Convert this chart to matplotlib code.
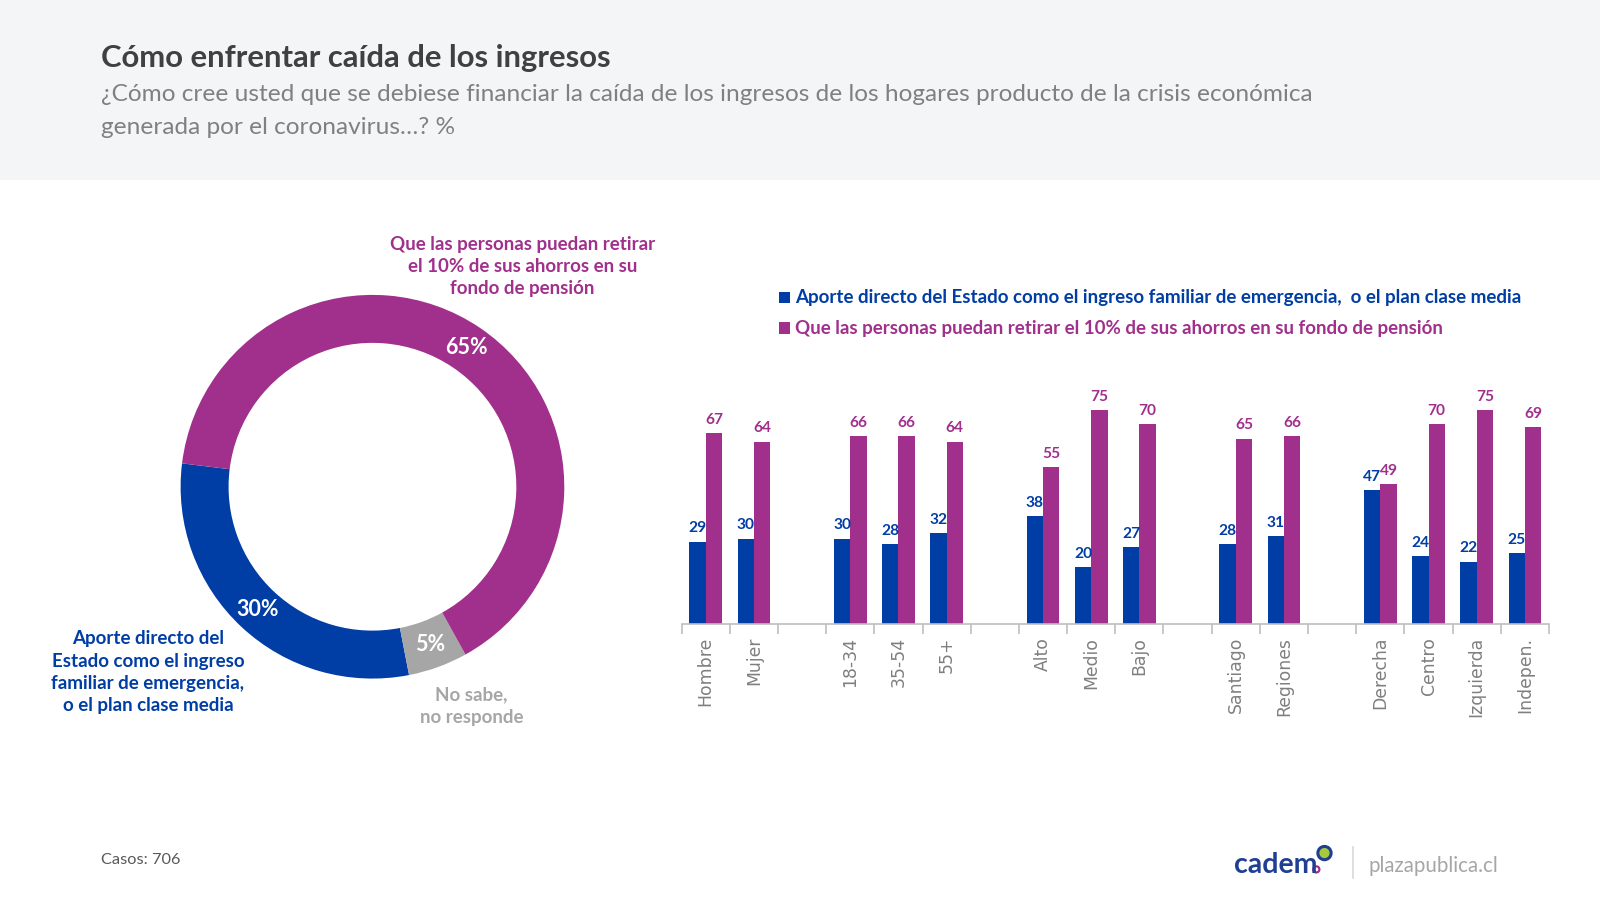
import matplotlib
matplotlib.use("Agg")
import matplotlib.pyplot as plt
from matplotlib.patches import Rectangle, Circle
import numpy as np

# ---------------- data ----------------
title = "Cómo enfrentar caída de los ingresos"
subtitle_lines = ["¿Cómo cree usted que se debiese financiar la caída de los ingresos de los hogares producto de la crisis económica",
                  "generada por el coronavirus…? %"]

donut_labels = ["Aporte directo del\nEstado como el ingreso\nfamiliar de emergencia,\no el plan clase media",
                "No sabe,\nno responde",
                "Que las personas puedan retirar\nel 10% de sus ahorros en su\nfondo de pensión"]
donut_values = [30, 5, 65]

groups = [["Hombre", "Mujer"],
          ["18-34", "35-54", "55+"],
          ["Alto", "Medio", "Bajo"],
          ["Santiago", "Regiones"],
          ["Derecha", "Centro", "Izquierda", "Indepen."]]
estado = [29, 30, 30, 28, 32, 38, 20, 27, 28, 31, 47, 24, 22, 25]
retiro = [67, 64, 66, 66, 64, 55, 75, 70, 65, 66, 49, 70, 75, 69]
series_names = ["Aporte directo del Estado como el ingreso familiar de emergencia,  o el plan clase media",
                "Que las personas puedan retirar el 10% de sus ahorros en su fondo de pensión"]

casos = "Casos: 706"

# ---------------- style ----------------
BLUE = "#003DA5"
MAG = "#A0308C"
GRAY = "#A6A6A6"
FONT = ["Lato", "DejaVu Sans"]
plt.rcParams["font.family"] = FONT

# layout coordinate space (pixels of a 1568x882 canvas, saved at 1600x900)
W, H = 1568, 882
fig = plt.figure(figsize=(16, 9), dpi=100)

bg = fig.add_axes([0, 0, 1, 1])
bg.set_xlim(0, W)
bg.set_ylim(H, 0)
bg.axis("off")
bg.add_patch(Rectangle((0, 0), W, 176, facecolor="#F4F5F7", edgecolor="none"))

bg.text(99, 66, title, fontsize=22.3, fontweight="bold", color="#404040", va="baseline")
bg.text(99, 99, subtitle_lines[0], fontsize=17.6, color="#808080", va="baseline")
bg.text(99, 131, subtitle_lines[1], fontsize=17.6, color="#808080", va="baseline")

# ---------------- donut ----------------
cx, cy, R = 365, 477, 188
dax = fig.add_axes([(cx - R) / W, (H - cy - R) / H, 2 * R / W, 2 * R / H])
wedges, texts, autotexts = dax.pie(
    donut_values, colors=[BLUE, GRAY, MAG], startangle=173, counterclock=True,
    radius=1, wedgeprops=dict(width=0.25, edgecolor="none"),
    autopct=lambda p: f"{p:.0f}%", pctdistance=0.875,
    textprops=dict(color="white", fontsize=15.5, fontweight="bold"))
dax.set_xlim(-1, 1)
dax.set_ylim(-1, 1)
dax.set_aspect("equal")
dax.axis("off")

bg.text(145, 659, donut_labels[0], fontsize=13.5, fontweight="bold", color=BLUE,
        ha="center", va="center", linespacing=1.38)
bg.text(462, 692, donut_labels[1], fontsize=13.5, fontweight="bold", color=GRAY,
        ha="center", va="center", linespacing=1.38)
bg.text(512, 261, donut_labels[2], fontsize=13.5, fontweight="bold", color=MAG,
        ha="center", va="center", linespacing=1.38)

# ---------------- legend ----------------
for i, (name, col) in enumerate(zip(series_names, [BLUE, MAG])):
    y = 292 + 30 * i
    bg.add_patch(Rectangle((763, y - 6), 11, 11, facecolor=col, edgecolor="none"))
    bg.text(779, y, name, fontsize=13.5, fontweight="bold", color=col, va="center")

# ---------------- bars ----------------
positions, labels = [], []
slot = 0
for gi, g in enumerate(groups):
    for lab in g:
        positions.append(slot)
        labels.append(lab)
        slot += 1
    if gi < len(groups) - 1:
        slot += 1
nslots = slot
positions = np.array(positions)

x0, x1, base = 668, 1518, 612
ymax = 80
ppu = 2.8
bax = fig.add_axes([x0 / W, (H - base) / H, (x1 - x0) / W, ymax * ppu / H])
bw = 0.34
b1 = bax.bar(positions - bw / 2, estado, width=bw, color=BLUE, edgecolor="none")
b2 = bax.bar(positions + bw / 2, retiro, width=bw, color=MAG, edgecolor="none")
for rect, v in zip(b1, estado):
    bax.text(rect.get_x() + rect.get_width() / 2, v + 2.2, f"{v}", ha="center", va="bottom",
             fontsize=11.2, fontweight="bold", color=BLUE, clip_on=False)
for rect, v in zip(b2, retiro):
    bax.text(rect.get_x() + rect.get_width() / 2, v + 2.2, f"{v}", ha="center", va="bottom",
             fontsize=11.2, fontweight="bold", color=MAG, clip_on=False)

bax.set_xlim(-0.5, nslots - 0.5)
bax.set_ylim(0, ymax)
for s in ["top", "right", "left"]:
    bax.spines[s].set_visible(False)
bax.spines["bottom"].set_color("#BFBFBF")
bax.spines["bottom"].set_linewidth(1.2)
bax.set_yticks([])
bax.set_xticks(positions)
bax.set_xticklabels(labels, rotation=90, fontsize=12.4, color="#7F7F7F", family="DejaVu Sans")
bax.tick_params(axis="x", which="major", length=0, pad=9)
bax.set_xticks(np.arange(nslots + 1) - 0.5, minor=True)
bax.tick_params(axis="x", which="minor", length=7, color="#BFBFBF", width=1.2)
bax.patch.set_alpha(0)

# ---------------- footer ----------------
bg.text(99, 843, casos, fontsize=11.8, color="#595959", va="center")
bg.text(1209, 848, "cadem", fontsize=20.5, color="#1F3F93", va="center", fontweight="bold")
bg.add_patch(Circle((1298, 836), 6.5, facecolor="#A8C93A", edgecolor="#1F3F93", linewidth=2.2))
bg.add_patch(Circle((1290, 852), 3.0, facecolor="white", edgecolor="#A0308C", linewidth=1.6))
bg.plot([1326, 1326], [830, 860], color="#D9D9D9", linewidth=1.2)
bg.text(1341, 849, "plazapublica.cl", fontsize=14.8, color="#A6A6A6", va="center")

fig.savefig("out.png", dpi=100)
